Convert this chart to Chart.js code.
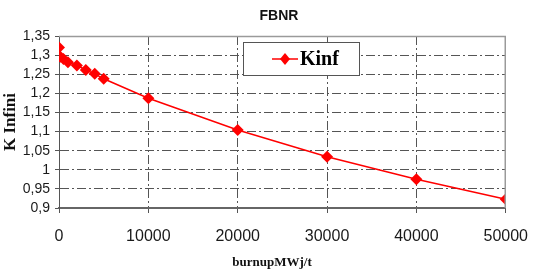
<!DOCTYPE html>
<html>
<head>
<meta charset="utf-8">
<script src="https://cdn.jsdelivr.net/npm/chart.js@4"></script>
<style>
  html,body{margin:0;padding:0;background:#fff;}
  #wrap{width:542px;height:272px;}
</style>
</head>
<body>
<div id="wrap"><canvas id="myChart" width="542" height="272"></canvas></div>
<script>
// burnup (MWj/t) and K infini values
const burnup = [0, 150, 500, 1000, 2000, 3000, 4000, 5000, 10000, 20000, 30000, 40000, 50000];
const kinf = [1.320, 1.296, 1.290, 1.281, 1.273, 1.261, 1.251, 1.238, 1.187, 1.104, 1.034, 0.975, 0.923];
const seriesName = 'Kinf';
const chartTitle = 'FBNR';
const xTitle = 'burnupMWj/t';
const yTitle = 'K Infini';

const points = [];
for (let i = 0; i < burnup.length; i++) {
    points.push({x: burnup[i], y: kinf[i]});
}

// title, x title, frame and the boxed legend inside the plot
const extras = {
    id: 'extras',
    afterDraw(chart) {
        const c = chart.ctx;
        const a = chart.chartArea;
        c.save();
        // top / right frame
        c.strokeStyle = '#9a9a9a';
        c.lineWidth = 1.5;
        c.beginPath();
        c.moveTo(a.left, a.top + 0.5);
        c.lineTo(a.right - 0.5, a.top + 0.5);
        c.lineTo(a.right - 0.5, a.bottom);
        c.stroke();

        c.fillStyle = '#111';
        c.textAlign = 'center';
        c.textBaseline = 'middle';
        c.font = 'bold 14px "Liberation Sans", Arial, sans-serif';
        c.fillText(chartTitle, 279, 16);
        c.font = 'bold 13px "Liberation Serif", "Times New Roman", serif';
        c.fillText(xTitle, 272, 263);

        // legend box
        const lx = 243, ly = 42, lw = 116, lh = 33;
        c.fillStyle = '#fff';
        c.fillRect(lx, ly, lw, lh);
        c.strokeStyle = '#555';
        c.lineWidth = 1;
        c.strokeRect(lx + 0.5, ly + 0.5, lw, lh);
        const ds = chart.data.datasets[0];
        c.strokeStyle = ds.borderColor;
        c.lineWidth = 1.5;
        c.beginPath();
        c.moveTo(272, 59);
        c.lineTo(298, 59);
        c.stroke();
        c.fillStyle = ds.backgroundColor;
        c.beginPath();
        c.moveTo(285, 53);
        c.lineTo(290, 59);
        c.lineTo(285, 65);
        c.lineTo(280, 59);
        c.closePath();
        c.fill();
        c.fillStyle = '#000';
        c.textAlign = 'left';
        c.font = 'bold 20px "Liberation Serif", "Times New Roman", serif';
        c.fillText(ds.label, 300, 60);
        c.restore();
    }
};

const gridDash = [9, 3, 2, 3];

const ctx = document.getElementById('myChart').getContext('2d');
const myChart = new Chart(ctx, {
    type: 'line',
    data: {
        datasets: [{
            label: seriesName,
            data: points,
            borderColor: '#ff0000',
            backgroundColor: '#ff0000',
            borderWidth: 1.5,
            pointStyle: 'rectRot',
            pointRadius: 6,
            pointBorderWidth: 0,
            tension: 0
        }]
    },
    options: {
        responsive: false,
        animation: false,
        layout: {padding: {top: 36, right: 22, bottom: 0, left: 0}},
        scales: {
            x: {
                type: 'linear',
                min: 0,
                max: 50000,
                afterFit(scale) { scale.height = 64; },
                ticks: {
                    stepSize: 10000,
                    padding: 14,
                    maxRotation: 0,
                    autoSkip: false,
                    color: '#1a1a1a',
                    font: {family: '"Liberation Sans", Arial, sans-serif', size: 16},
                    callback: v => String(v)
                },
                grid: {
                    color: '#555',
                    lineWidth: 1,
                    tickLength: 5,
                    tickColor: '#555',
                    tickBorderDash: []
                },
                border: {color: '#666', width: 2, dash: gridDash}
            },
            y: {
                min: 0.9,
                max: 1.35,
                afterFit(scale) { scale.width = 59; },
                ticks: {
                    stepSize: 0.05,
                    padding: 5,
                    autoSkip: false,
                    color: '#1a1a1a',
                    font: {family: '"Liberation Sans", Arial, sans-serif', size: 14},
                    callback: v => String(Math.round(v * 100) / 100).replace('.', ',')
                },
                grid: {
                    color: '#555',
                    lineWidth: 1,
                    tickLength: 4,
                    tickColor: '#555',
                    tickBorderDash: []
                },
                border: {color: '#555', width: 1, dash: gridDash},
                title: {
                    display: true,
                    text: yTitle,
                    color: '#111',
                    padding: {top: 0, bottom: 0},
                    font: {family: '"Liberation Serif", "Times New Roman", serif', size: 17, weight: 'bold'}
                }
            }
        },
        plugins: {
            legend: {display: false},
            title: {display: false},
            tooltip: {enabled: false}
        }
    },
    plugins: [extras]
});
</script>
</body>
</html>
